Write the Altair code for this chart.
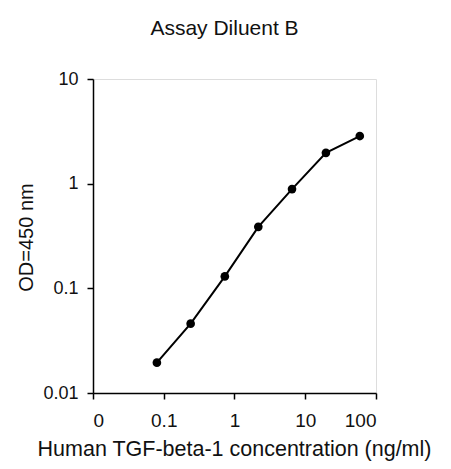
import altair as alt
import pandas as pd

conc = [0.08, 0.24, 0.73, 2.17, 6.5, 19.6, 59]
od = [0.0195, 0.046, 0.13, 0.387, 0.887, 1.97, 2.85]
x_ticks = [0.01, 0.1, 1, 10, 100]
y_ticks = [0.01, 0.1, 1, 10]

df = pd.DataFrame({"conc": conc, "od": od})

FONT = "Liberation Sans"

x_enc = alt.X(
    "conc:Q",
    scale=alt.Scale(type="log", domain=[0.01, 100], nice=False),
    axis=alt.Axis(
        values=x_ticks,
        labelExpr="datum.value < 0.05 ? '0' : toString(datum.value)",
        title="Human TGF-beta-1 concentration (ng/ml)",
        grid=False,
        tickSize=6,
        labelPadding=12,
        labelBaseline="top",
        labelFontSize=19,
        labelFont=FONT,
        labelColor="#111",
        titleFont=FONT,
        titleFontSize=21.5,
        titleFontWeight="normal",
        titleColor="#111",
        titleBaseline="alphabetic",
        titleX=141,
        titleY=62,
        titleAlign="center",
        domainColor="black",
        domainWidth=1.5,
        tickColor="black",
        tickWidth=1.5,
    ),
)

y_enc = alt.Y(
    "od:Q",
    scale=alt.Scale(type="log", domain=[0.01, 10], nice=False),
    axis=alt.Axis(
        values=y_ticks,
        labelExpr="toString(datum.value)",
        title="OD=450 nm",
        grid=False,
        tickSize=6,
        labelPadding=9,
        labelFontSize=18,
        labelFont=FONT,
        labelColor="#111",
        titleFont=FONT,
        titleFontSize=20,
        titleFontWeight="normal",
        titleColor="#111",
        titleBaseline="alphabetic",
        titleAngle=-90,
        titleX=-61,
        titleY=158,
        titleAlign="center",
        domainColor="black",
        domainWidth=1.5,
        tickColor="black",
        tickWidth=1.5,
    ),
)

chart = (
    alt.Chart(df)
    .mark_line(
        color="black",
        strokeWidth=2,
        point=alt.OverlayMarkDef(filled=True, size=75, color="black", opacity=1),
    )
    .encode(x=x_enc, y=y_enc)
    .properties(
        width=283,
        height=314,
        title=alt.TitleParams(
            "Assay Diluent B",
            font=FONT,
            fontSize=21,
            fontWeight="normal",
            color="#111",
            anchor="middle",
            baseline="alphabetic",
            offset=14,
            dx=-10,
        ),
        autosize=alt.AutoSizeParams(type="none"),
        padding={"left": 85, "top": 71, "right": 67, "bottom": 68},
    )
    .configure_view(stroke="black", strokeWidth=1.5)
    .configure(background="white")
)

chart.save("out.html", embed_options={"renderer": "svg", "actions": False})
